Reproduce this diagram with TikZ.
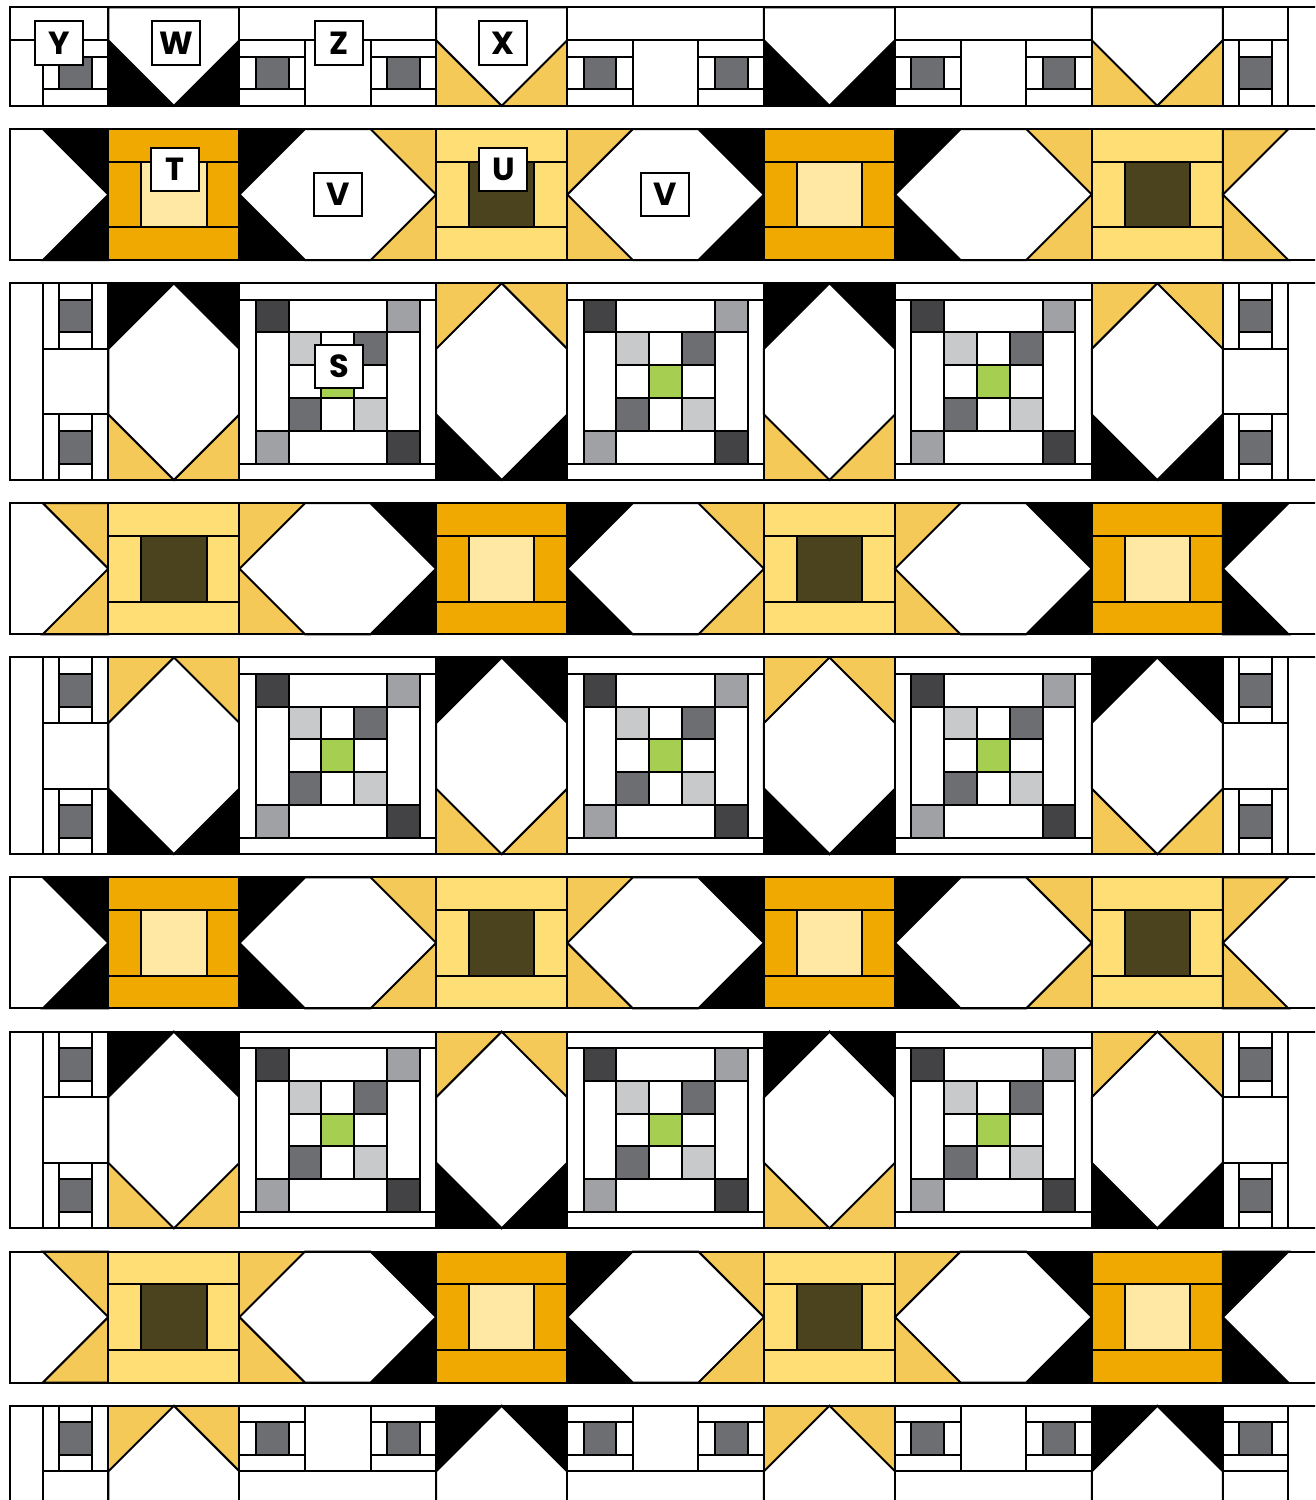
\documentclass[tikz,border=0pt]{standalone}
\usepackage{fontspec}
\newfontfamily\popfam{Poppins}
\definecolor{orng}{HTML}{F0A900}
\definecolor{pale}{HTML}{FFE8A3}
\definecolor{uyel}{HTML}{FFDE75}
\definecolor{olive}{HTML}{4A431E}
\definecolor{tri}{HTML}{F5C957}
\definecolor{subgray}{HTML}{6D6E71}
\definecolor{sdark}{HTML}{434345}
\definecolor{smid}{HTML}{A0A1A4}
\definecolor{slight}{HTML}{C8C9CB}
\definecolor{sgreen}{HTML}{A6CE51}
\tikzset{
  pc/.style={draw=black, line width=1pt},
  lab/.style={draw=black, line width=1pt, fill=white, minimum width=24pt, minimum height=21.8pt, inner sep=0pt, font={\popfam\bfseries\fontsize{16}{16}\selectfont}}
}
% 4x4 framed block: x, y, outer, centre
\newcommand{\frameblock}[4]{%
 \filldraw[pc, fill=#3] (#1,#2) rectangle ++(4,1);
 \filldraw[pc, fill=#3] (#1,#2+3) rectangle ++(4,1);
 \filldraw[pc, fill=#3] (#1,#2+1) rectangle ++(1,2);
 \filldraw[pc, fill=#3] (#1+3,#2+1) rectangle ++(1,2);
 \filldraw[pc, fill=#4] (#1+1,#2+1) rectangle ++(2,2);}
% 6x4 goose: x, y, left colour, right colour
\newcommand{\goose}[4]{%
 \fill[#3] (#1,#2) rectangle ++(3,4);
 \fill[#4] (#1+3,#2) rectangle ++(3,4);
 \filldraw[pc, fill=white] (#1,#2+2) -- (#1+2,#2) -- (#1+4,#2) -- (#1+6,#2+2) -- (#1+4,#2+4) -- (#1+2,#2+4) -- cycle;
 \draw[pc] (#1,#2) rectangle ++(6,4);}
% 4x6 diamond: x, y, top colour, bottom colour
\newcommand{\diam}[4]{%
 \fill[#3] (#1,#2) rectangle ++(4,3);
 \fill[#4] (#1,#2+3) rectangle ++(4,3);
 \filldraw[pc, fill=white] (#1+2,#2) -- (#1+4,#2+2) -- (#1+4,#2+4) -- (#1+2,#2+6) -- (#1,#2+4) -- (#1,#2+2) -- cycle;
 \draw[pc] (#1,#2) rectangle ++(4,6);}
% left end of a 4-high row: x, y, colour
\newcommand{\gooseleft}[3]{%
 \fill[white] (#1,#2) rectangle ++(3,4);
 \filldraw[pc, fill=#3] (#1+1,#2) -- (#1+3,#2) -- (#1+3,#2+2) -- cycle;
 \filldraw[pc, fill=#3] (#1+1,#2+4) -- (#1+3,#2+4) -- (#1+3,#2+2) -- cycle;
 \draw[pc] (#1,#2) rectangle ++(3,4);}
% right end of a 4-high row
\newcommand{\gooseright}[3]{%
 \fill[white] (#1,#2) rectangle ++(3,4);
 \filldraw[pc, fill=#3] (#1,#2) -- (#1+2,#2) -- (#1,#2+2) -- cycle;
 \filldraw[pc, fill=#3] (#1,#2+4) -- (#1+2,#2+4) -- (#1,#2+2) -- cycle;
 \draw[pc] (#1,#2) rectangle ++(3,4);}
% small blocks 2x2
\newcommand{\subv}[2]{%
 \filldraw[pc, fill=white] (#1,#2) rectangle ++(0.5,2);
 \filldraw[pc, fill=white] (#1+1.5,#2) rectangle ++(0.5,2);
 \filldraw[pc, fill=white] (#1+0.5,#2) rectangle ++(1,0.5);
 \filldraw[pc, fill=subgray] (#1+0.5,#2+0.5) rectangle ++(1,1);
 \filldraw[pc, fill=white] (#1+0.5,#2+1.5) rectangle ++(1,0.5);}
\newcommand{\subh}[2]{%
 \filldraw[pc, fill=white] (#1,#2) rectangle ++(2,0.5);
 \filldraw[pc, fill=white] (#1,#2+1.5) rectangle ++(2,0.5);
 \filldraw[pc, fill=white] (#1,#2+0.5) rectangle ++(0.5,1);
 \filldraw[pc, fill=subgray] (#1+0.5,#2+0.5) rectangle ++(1,1);
 \filldraw[pc, fill=white] (#1+1.5,#2+0.5) rectangle ++(0.5,1);}
% 6x6 S block
\newcommand{\sblock}[2]{%
 \filldraw[pc, fill=white] (#1,#2) rectangle ++(6,0.5);
 \filldraw[pc, fill=white] (#1,#2+5.5) rectangle ++(6,0.5);
 \filldraw[pc, fill=white] (#1,#2+0.5) rectangle ++(0.5,5);
 \filldraw[pc, fill=white] (#1+5.5,#2+0.5) rectangle ++(0.5,5);
 \filldraw[pc, fill=sdark] (#1+0.5,#2+0.5) rectangle ++(1,1);
 \filldraw[pc, fill=white] (#1+1.5,#2+0.5) rectangle ++(3,1);
 \filldraw[pc, fill=smid] (#1+4.5,#2+0.5) rectangle ++(1,1);
 \filldraw[pc, fill=white] (#1+0.5,#2+1.5) rectangle ++(1,3);
 \filldraw[pc, fill=white] (#1+4.5,#2+1.5) rectangle ++(1,3);
 \filldraw[pc, fill=slight] (#1+1.5,#2+1.5) rectangle ++(1,1);
 \filldraw[pc, fill=white] (#1+2.5,#2+1.5) rectangle ++(1,1);
 \filldraw[pc, fill=subgray] (#1+3.5,#2+1.5) rectangle ++(1,1);
 \filldraw[pc, fill=white] (#1+1.5,#2+2.5) rectangle ++(1,1);
 \filldraw[pc, fill=sgreen] (#1+2.5,#2+2.5) rectangle ++(1,1);
 \filldraw[pc, fill=white] (#1+3.5,#2+2.5) rectangle ++(1,1);
 \filldraw[pc, fill=subgray] (#1+1.5,#2+3.5) rectangle ++(1,1);
 \filldraw[pc, fill=white] (#1+2.5,#2+3.5) rectangle ++(1,1);
 \filldraw[pc, fill=slight] (#1+3.5,#2+3.5) rectangle ++(1,1);
 \filldraw[pc, fill=smid] (#1+0.5,#2+4.5) rectangle ++(1,1);
 \filldraw[pc, fill=white] (#1+1.5,#2+4.5) rectangle ++(3,1);
 \filldraw[pc, fill=sdark] (#1+4.5,#2+4.5) rectangle ++(1,1);}
% half diamonds (3 high)
\newcommand{\halfdown}[3]{%
 \fill[#3] (#1,#2+1) rectangle ++(4,2);
 \filldraw[pc, fill=white] (#1,#2) -- (#1+4,#2) -- (#1+4,#2+1) -- (#1+2,#2+3) -- (#1,#2+1) -- cycle;
 \draw[pc] (#1,#2) rectangle ++(4,3);}
\newcommand{\halfup}[3]{%
 \fill[#3] (#1,#2) rectangle ++(4,2);
 \filldraw[pc, fill=white] (#1+2,#2) -- (#1+4,#2+2) -- (#1+4,#2+3) -- (#1,#2+3) -- (#1,#2+2) -- cycle;
 \draw[pc] (#1,#2) rectangle ++(4,3);}
% Z type pieces (6 wide, 3 high)
\newcommand{\ztop}[2]{%
 \filldraw[pc, fill=white] (#1,#2) rectangle ++(6,1);
 \subh{#1}{#2+1}
 \filldraw[pc, fill=white] (#1+2,#2+1) rectangle ++(2,2);
 \subh{#1+4}{#2+1}}
\newcommand{\zbot}[2]{%
 \subh{#1}{#2}
 \filldraw[pc, fill=white] (#1+2,#2) rectangle ++(2,2);
 \subh{#1+4}{#2}
 \filldraw[pc, fill=white] (#1,#2+2) rectangle ++(6,1);}
% row types
\newcommand{\rowTU}[1]{%
 \gooseleft{0}{#1}{black}
 \frameblock{3}{#1}{orng}{pale}
 \goose{7}{#1}{black}{tri}
 \frameblock{13}{#1}{uyel}{olive}
 \goose{17}{#1}{tri}{black}
 \frameblock{23}{#1}{orng}{pale}
 \goose{27}{#1}{black}{tri}
 \frameblock{33}{#1}{uyel}{olive}
 \gooseright{37}{#1}{tri}}
\newcommand{\rowUT}[1]{%
 \gooseleft{0}{#1}{tri}
 \frameblock{3}{#1}{uyel}{olive}
 \goose{7}{#1}{tri}{black}
 \frameblock{13}{#1}{orng}{pale}
 \goose{17}{#1}{black}{tri}
 \frameblock{23}{#1}{uyel}{olive}
 \goose{27}{#1}{tri}{black}
 \frameblock{33}{#1}{orng}{pale}
 \gooseright{37}{#1}{black}}
\newcommand{\rowS}[3]{%
 \filldraw[pc, fill=white] (0,#1) rectangle ++(1,6);
 \subv{1}{#1}
 \filldraw[pc, fill=white] (1,#1+2) rectangle ++(2,2);
 \subv{1}{#1+4}
 \diam{3}{#1}{#2}{#3}
 \sblock{7}{#1}
 \diam{13}{#1}{#3}{#2}
 \sblock{17}{#1}
 \diam{23}{#1}{#2}{#3}
 \sblock{27}{#1}
 \diam{33}{#1}{#3}{#2}
 \subv{37}{#1}
 \filldraw[pc, fill=white] (37,#1+2) rectangle ++(2,2);
 \subv{37}{#1+4}
 \filldraw[pc, fill=white] (39,#1) rectangle ++(1,6);}
\begin{document}
\begin{tikzpicture}[x=16.39pt, y=-16.39pt]
\useasboundingbox (-0.3051,-0.2288) rectangle (39.811,45.531);
\fill[white] (-0.3051,-0.2288) rectangle (39.811,45.531);
\clip (-0.3051,-0.2288) rectangle (39.811,45.531);
% row 1
\filldraw[pc, fill=white] (0,0) rectangle (3,1);
\filldraw[pc, fill=white] (0,1) rectangle (1,3);
\subh{1}{1}
\halfdown{3}{0}{black}
\ztop{7}{0}
\halfdown{13}{0}{tri}
\ztop{17}{0}
\halfdown{23}{0}{black}
\ztop{27}{0}
\halfdown{33}{0}{tri}
\filldraw[pc, fill=white] (37,0) rectangle (39,1);
\subv{37}{1}
\filldraw[pc, fill=white] (39,0) rectangle (40,3);
% rows 2-8
\rowTU{3.7071}
\rowS{8.4142}{black}{tri}
\rowUT{15.1213}
\rowS{19.8284}{tri}{black}
\rowTU{26.5355}
\rowS{31.2426}{black}{tri}
\rowUT{37.9497}
% row 9
\filldraw[pc, fill=white] (0,42.6569) rectangle ++(1,3);
\subv{1}{42.6569}
\filldraw[pc, fill=white] (1,44.6569) rectangle ++(2,1);
\halfup{3}{42.6569}{tri}
\zbot{7}{42.6569}
\halfup{13}{42.6569}{black}
\zbot{17}{42.6569}
\halfup{23}{42.6569}{tri}
\zbot{27}{42.6569}
\halfup{33}{42.6569}{black}
\subh{37}{42.6569}
\filldraw[pc, fill=white] (37,44.6569) rectangle ++(2,1);
\filldraw[pc, fill=white] (39,42.6569) rectangle ++(1,3);
% labels
\node[lab] (labY) at (1.51,1.09) {Y};
\node[lab] (labW) at (5.06,1.09) {W};
\node[lab] (labZ) at (10.03,1.09) {Z};
\node[lab] (labX) at (15.05,1.09) {X};
\node[lab] (labT) at (5.03,4.94) {T};
\node[lab] (labU) at (15.05,4.94) {U};
\node[lab] (labVa) at (10.0,5.70) {V};
\node[lab] (labVb) at (19.98,5.70) {V};
\node[lab] (labS) at (10.04,10.95) {S};
\end{tikzpicture}
\end{document}
